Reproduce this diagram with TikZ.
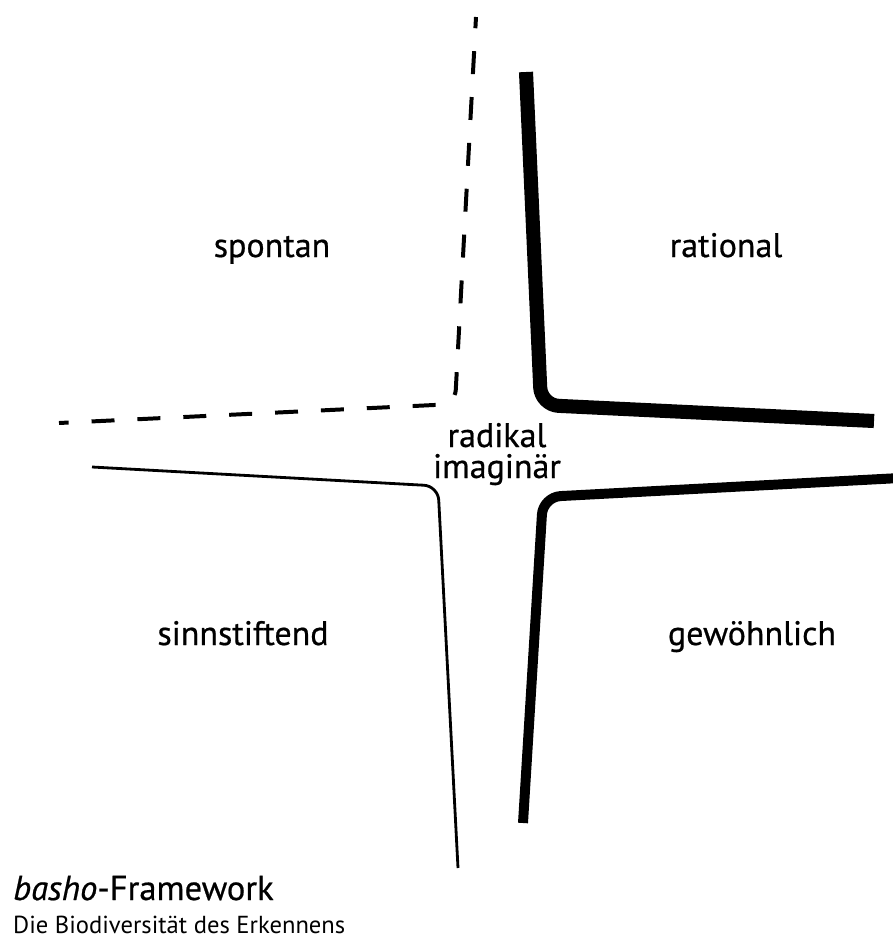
\documentclass[tikz,border=0pt]{standalone}
\usepackage{fontspec}
\setmainfont{PT Sans}
\newfontfamily\heavyfont{PT Sans}[FakeBold=0.6]
\usetikzlibrary{positioning}
\tikzset{
  every picture/.style={line join=round},
  label/.style={font=\heavyfont\fontsize{29}{26}\selectfont, inner sep=0pt, anchor=base},
  heavyline/.style={line width=#1, line cap=butt, rounded corners=15pt},
  heavyline/.default=12pt,
  thinline/.style={line width=2.4pt, line cap=butt, rounded corners=12pt},
  dashline/.style={line width=3.4pt, line cap=butt, rounded corners=12pt,
    dash pattern=on 19.6pt off 19.6pt, dash phase=10pt},
  title/.style={font=\heavyfont\fontsize{29.5}{30}\selectfont, inner sep=0pt, anchor=base west},
  subtitle/.style={font=\fontsize{21}{22}\selectfont, inner sep=0pt, anchor=base west},
}
\begin{document}
\begin{tikzpicture}[x=0.03cm, y=-0.03cm]
  \useasboundingbox (0,0) rectangle (893,942);
  % bends of the four lines
  \coordinate (dtop) at (476,17);
  \coordinate (dbend) at (455,404);
  \coordinate (dend) at (59,423);
  \coordinate (rtop) at (526,72);
  \coordinate (rbend) at (541,405);
  \coordinate (rend) at (874,421);
  \coordinate (gstart) at (900,478);
  \coordinate (gbend) at (543,497);
  \coordinate (gend) at (523,823);
  \coordinate (sstart) at (92,467);
  \coordinate (sbend) at (438,486);
  \coordinate (send) at (458,868);
  \draw[dashline] (dtop) -- (dbend) -- (dend);
  \draw[heavyline] (rtop) -- (rbend) -- (rend);
  \draw[heavyline=8.5pt] (gstart) -- (gbend) -- (gend);
  \draw[thinline] (sstart) -- (sbend) -- (send);
  % quadrant labels
  \node[label] (spontan) at (272,257) {spontan};
  \node[label] (rational) at (726,257) {rational};
  \node[label] (sinn) at (243,645) {sinnstiftend};
  \node[label] (gewoehnlich) at (752,645) {gewöhnlich};
  \node[label] (radikal) at (497,447) {radikal};
  \node[label] (imaginaer) at (497,478) {imaginär};
  % footer
  \node[title] (basho) at (13,900) {\textit{basho}-Framework};
  \node[subtitle] (biodiv) at (13,933) {Die Biodiversität des Erkennens};
\end{tikzpicture}
\end{document}
